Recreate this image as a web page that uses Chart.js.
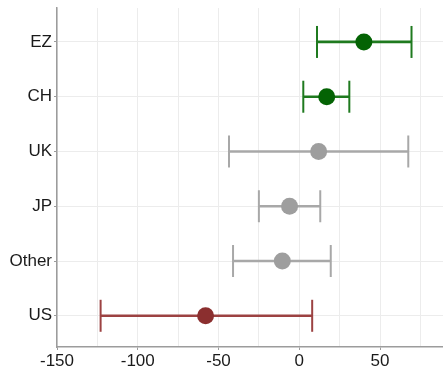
<!DOCTYPE html>
<html>
<head>
<meta charset="utf-8">
<script src="https://cdn.jsdelivr.net/npm/chart.js@4"></script>
<style>
  html, body { margin: 0; padding: 0; background: #fff; }
  canvas { display: block; }
</style>
</head>
<body>
<canvas id="dotChart" width="443" height="367"></canvas>
<script>
const categories = ['EZ', 'CH', 'UK', 'JP', 'Other', 'US'];
const estimates = [40, 17, 12, -6, -10.5, -58];
const lowerBounds = [11, 2.5, -43.5, -25, -41, -123];
const upperBounds = [69.5, 31, 67.5, 13, 19.5, 8];
const pointColors = ['#046304', '#046304', '#9e9e9e', '#9e9e9e', '#9e9e9e', '#8b2f2f'];
const lineColors = ['#1f7a1f', '#1f7a1f', '#a8a8a8', '#a8a8a8', '#a8a8a8', '#9c4242'];

const axisGray = '#9c9c9c';
const gridGray = '#ececec';

const pos = categories.map((c, i) => i);

// drop the label overhang padding so the plot area fills the canvas like the original
function noPad(s) {
    s.paddingTop = 0;
    s.paddingBottom = 0;
    s.paddingLeft = 0;
    s.paddingRight = 0;
}

document.addEventListener('DOMContentLoaded', function() {
    const ctx = document.getElementById('dotChart').getContext('2d');

    new Chart(ctx, {
        type: 'bar',
        data: {
            datasets: [
                {
                    type: 'scatter',
                    data: pos.map(i => ({x: estimates[i], y: i})),
                    pointRadius: 8.5,
                    pointBackgroundColor: pointColors,
                    pointBorderWidth: 0,
                    pointBorderColor: pointColors
                },
                {
                    type: 'scatter',
                    data: pos.map(i => ({x: lowerBounds[i], y: i})),
                    pointStyle: 'line',
                    rotation: 90,
                    pointRadius: 16,
                    pointBorderWidth: 2,
                    pointBorderColor: lineColors
                },
                {
                    type: 'scatter',
                    data: pos.map(i => ({x: upperBounds[i], y: i})),
                    pointStyle: 'line',
                    rotation: 90,
                    pointRadius: 16,
                    pointBorderWidth: 2,
                    pointBorderColor: lineColors
                },
                {
                    type: 'bar',
                    indexAxis: 'y',
                    data: pos.map(i => ({x: [lowerBounds[i], upperBounds[i]], y: i})),
                    backgroundColor: lineColors,
                    borderWidth: 0,
                    barThickness: 2
                }
            ]
        },
        options: {
            indexAxis: 'y',
            responsive: false,
            animation: false,
            layout: { autoPadding: false, padding: { top: 8, right: 0, left: 0, bottom: 0 } },
            plugins: {
                legend: { display: false },
                tooltip: { enabled: false }
            },
            scales: {
                x: {
                    type: 'linear',
                    min: -150,
                    max: 89,
                    offset: false,
                    grid: {
                        color: gridGray,
                        offset: false,
                        tickLength: 3,
                        tickColor: c => (c.tick && c.tick.value % 50 === 0) ? axisGray : 'rgba(0,0,0,0)'
                    },
                    border: { color: axisGray, width: 1.5 },
                    ticks: {
                        stepSize: 25,
                        includeBounds: false,
                        autoSkip: false,
                        maxRotation: 0,
                        padding: 1,
                        color: '#1a1a1a',
                        font: { family: 'Liberation Sans, Arial, sans-serif', size: 17 },
                        callback: v => v % 50 === 0 ? v : ''
                    },
                    afterFit: s => { s.height = 20; noPad(s); }
                },
                y: {
                    type: 'linear',
                    reverse: true,
                    min: -0.62,
                    max: 5.57,
                    offset: false,
                    grid: {
                        color: gridGray,
                        offset: false,
                        tickLength: 3,
                        tickColor: axisGray
                    },
                    border: { color: axisGray, width: 1.5 },
                    ticks: {
                        stepSize: 1,
                        includeBounds: false,
                        autoSkip: false,
                        padding: 2,
                        color: '#1a1a1a',
                        font: { family: 'Liberation Sans, Arial, sans-serif', size: 17 },
                        callback: v => categories[v] || ''
                    },
                    afterFit: s => { s.width = 57; noPad(s); }
                }
            }
        }
    });
});
</script>
</body>
</html>
